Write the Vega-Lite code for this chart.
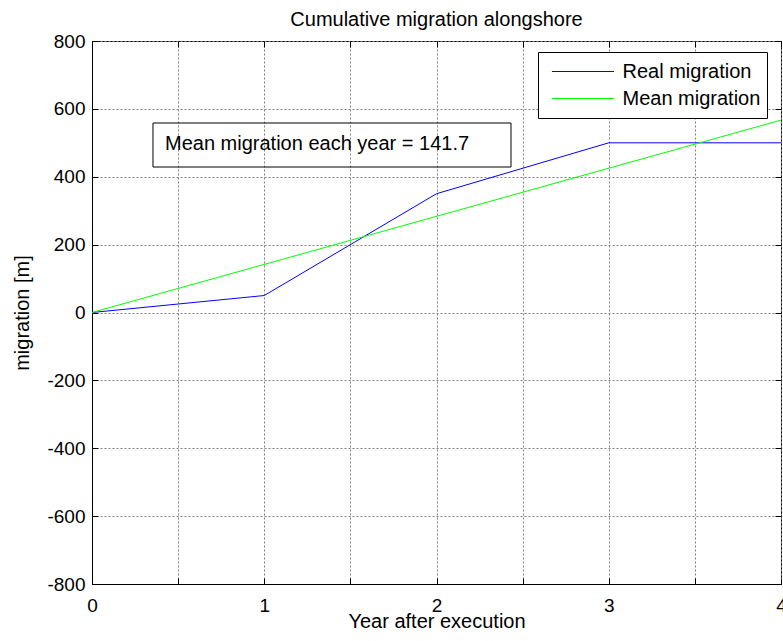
{
  "$schema": "https://vega.github.io/schema/vega-lite/v6.json",
  "width": 689,
  "height": 543,
  "autosize": {"type": "none"},
  "padding": {"left": 92, "top": 41, "right": 2, "bottom": 57},
  "background": "white",
  "config": {
    "font": "Liberation Sans",
    "view": {"stroke": "black", "strokeWidth": 1},
    "axis": {
      "domainColor": "black",
      "domainWidth": 1,
      "tickColor": "black",
      "tickWidth": 1,
      "labelColor": "black",
      "titleColor": "black",
      "labelFont": "Liberation Sans",
      "titleFont": "Liberation Sans",
      "titleFontWeight": "normal",
      "labelFlush": false,
      "labelOverlap": false
    }
  },
  "title": {
    "text": "Cumulative migration alongshore",
    "font": "Liberation Sans",
    "fontSize": 20,
    "fontWeight": "normal",
    "color": "black",
    "anchor": "middle",
    "frame": "group",
    "baseline": "alphabetic",
    "offset": 14,
    "dy": 28
  },
  "datasets": {
    "lines": [
      {"series": "Real migration", "year": 0, "migration": 0},
      {"series": "Real migration", "year": 1, "migration": 50},
      {"series": "Real migration", "year": 2, "migration": 350},
      {"series": "Real migration", "year": 3, "migration": 500},
      {"series": "Real migration", "year": 4, "migration": 500},
      {"series": "Mean migration", "year": 0, "migration": 0},
      {"series": "Mean migration", "year": 4, "migration": 566.8}
    ],
    "note": [{"note": "Mean migration each year = 141.7"}]
  },
  "layer": [
    {
      "data": {"name": "lines"},
      "mark": {"type": "line", "strokeWidth": 1, "clip": true},
      "encoding": {
        "x": {
          "field": "year",
          "type": "quantitative",
          "scale": {"domain": [0, 4], "nice": false, "zero": false},
          "axis": {
            "orient": "bottom",
            "values": [0, 0.5, 1, 1.5, 2, 2.5, 3, 3.5, 4],
            "labelExpr": "datum.value % 1 == 0 ? datum.value + '' : ''",
            "labelFontSize": 19,
            "labelPadding": 18,
            "tickSize": -6,
            "grid": true,
            "gridColor": "#808080",
            "gridDash": [2, 2],
            "gridWidth": 1,
            "title": "Year after execution",
            "titleFontSize": 20,
            "titleBaseline": "alphabetic",
            "titleY": 43
          }
        },
        "y": {
          "field": "migration",
          "type": "quantitative",
          "scale": {"domain": [-800, 800], "nice": false, "zero": false},
          "axis": {
            "orient": "left",
            "values": [-800, -600, -400, -200, 0, 200, 400, 600, 800],
            "labelExpr": "datum.value + ''",
            "labelFontSize": 19,
            "labelPadding": 13,
            "tickSize": -6,
            "grid": true,
            "gridColor": "#808080",
            "gridDash": [2, 2],
            "gridWidth": 1,
            "title": "migration [m]",
            "titleFontSize": 20,
            "titleBaseline": "alphabetic",
            "titleX": -64
          }
        },
        "color": {
          "field": "series",
          "type": "nominal",
          "scale": {
            "domain": ["Real migration", "Mean migration"],
            "range": ["#0000ff", "#00ff00"]
          },
          "legend": {
            "title": null,
            "orient": "none",
            "legendX": 446,
            "legendY": 11,
            "symbolType": "stroke",
            "symbolSize": 3844,
            "symbolStrokeWidth": 1,
            "symbolOffset": 7.5,
            "labelOffset": 8,
            "labelFontSize": 20,
            "labelFont": "Liberation Sans",
            "labelColor": "black",
            "clipHeight": 27,
            "rowPadding": 0,
            "padding": 6,
            "strokeColor": "black",
            "fillColor": "white",
            "cornerRadius": 0
          }
        }
      }
    },
    {
      "data": {"name": "note"},
      "mark": {"type": "rect", "fill": null, "fillOpacity": 0, "stroke": "black", "strokeWidth": 1},
      "encoding": {
        "x": {
          "datum": 0.3541,
          "type": "quantitative",
          "axis": {
            "orient": "top",
            "values": [0, 0.5, 1, 1.5, 2, 2.5, 3, 3.5, 4],
            "labels": false,
            "domain": false,
            "grid": false,
            "tickSize": -6,
            "minExtent": 0,
            "maxExtent": 0,
            "title": null
          }
        },
        "x2": {"datum": 2.4325},
        "y": {
          "datum": 558.4,
          "type": "quantitative",
          "axis": {
            "orient": "right",
            "values": [-800, -600, -400, -200, 0, 200, 400, 600, 800],
            "labels": false,
            "domain": false,
            "grid": false,
            "tickSize": -6,
            "minExtent": 0,
            "maxExtent": 0,
            "title": null
          }
        },
        "y2": {"datum": 428.7}
      }
    },
    {
      "data": {"name": "note"},
      "mark": {"type": "text", "align": "left", "baseline": "alphabetic", "fontSize": 20, "font": "Liberation Sans", "color": "black"},
      "encoding": {
        "x": {"datum": 0.4238, "type": "quantitative", "axis": null},
        "y": {"datum": 479, "type": "quantitative", "axis": null},
        "text": {"field": "note"}
      }
    }
  ],
  "resolve": {"axis": {"x": "independent", "y": "independent"}}
}
